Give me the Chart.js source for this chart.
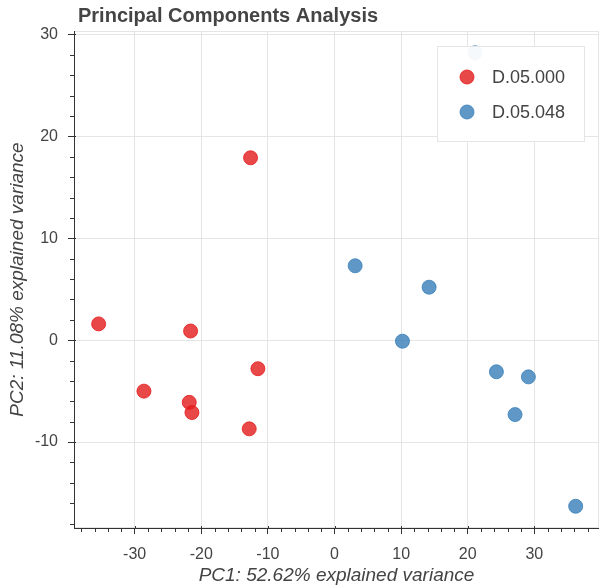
<!DOCTYPE html>
<html>
<head>
<meta charset="utf-8">
<title>Principal Components Analysis</title>
<script src="https://cdn.jsdelivr.net/npm/chart.js@4.4.1/dist/chart.umd.min.js"></script>
<style>
    body { margin: 0; background: #fff; }
    canvas { display: block; }
</style>
</head>
<body>
<canvas id="pca" width="599" height="587"></canvas>
<script>
// Data
const chartTitle = 'Principal Components Analysis';
const xLabel = 'PC1: 52.62% explained variance';
const yLabel = 'PC2: 11.08% explained variance';
const groups = ['D.05.000', 'D.05.048'];
const pc1_000 = [-35.4, -28.6, -21.6, -21.8, -21.4, -12.6, -11.5, -12.8];
const pc2_000 = [1.6, -5.0, 0.9, -6.1, -7.1, 17.9, -2.8, -8.7];
const pc1_048 = [3.1, 14.2, 10.2, 24.3, 29.1, 27.1, 36.2, 21.1];
const pc2_048 = [7.3, 5.2, -0.1, -3.1, -3.6, -7.3, -16.3, 28.2];
const xRange = [-39.1, 39.7];
const yRange = [-18.43, 30.34];

const FONT = "'Liberation Sans', Arial, sans-serif";
const TEXT = '#444';
const AXIS = '#333';
const colors = ['rgba(228, 26, 28, 0.8)', 'rgba(55, 126, 184, 0.8)'];

function toPoints(xs, ys) {
    return xs.map((x, i) => ({ x: x, y: ys[i] }));
}

// light plot outline, drawn under everything else
const outline = {
    id: 'outline',
    beforeDraw(chart) {
        const a = chart.chartArea;
        const ctx = chart.ctx;
        ctx.save();
        ctx.strokeStyle = '#e5e5e5';
        ctx.lineWidth = 1;
        ctx.strokeRect(a.left + 0.5, a.top + 0.5, a.right - a.left - 1, a.bottom - a.top - 1);
        ctx.restore();
    }
};

// Title, minor ticks and the legend box (Bokeh style)
const extras = {
    id: 'extras',
    afterDraw(chart) {
        const ctx = chart.ctx;
        const area = chart.chartArea;
        const xs = chart.scales.x;
        const ys = chart.scales.y;
        ctx.save();

        // minor + inner major ticks
        ctx.strokeStyle = AXIS;
        ctx.lineWidth = 1;
        ctx.beginPath();
        for (let v = Math.ceil(xRange[0] / 2) * 2; v <= xRange[1]; v += 2) {
            const px = Math.round(xs.getPixelForValue(v)) + 0.5;
            if (v % 10 === 0) {
                ctx.moveTo(px, area.bottom);
                ctx.lineTo(px, area.bottom - 2);
            } else {
                ctx.moveTo(px, area.bottom);
                ctx.lineTo(px, area.bottom + 4);
            }
        }
        for (let v = Math.ceil(yRange[0] / 2) * 2; v <= yRange[1]; v += 2) {
            const py = Math.round(ys.getPixelForValue(v)) + 0.5;
            if (v % 10 === 0) {
                ctx.moveTo(area.left, py);
                ctx.lineTo(area.left + 2, py);
            } else {
                ctx.moveTo(area.left, py);
                ctx.lineTo(area.left - 4, py);
            }
        }
        ctx.stroke();

        // title
        ctx.fillStyle = TEXT;
        ctx.font = 'bold 20px ' + FONT;
        ctx.textAlign = 'left';
        ctx.textBaseline = 'middle';
        ctx.fillText(chartTitle, 78, 16);

        // legend
        const bx = 437, by = 46, bw = 147, bh = 95;
        ctx.fillStyle = 'rgba(255, 255, 255, 0.95)';
        ctx.fillRect(bx, by, bw, bh);
        ctx.strokeStyle = '#e5e5e5';
        ctx.strokeRect(bx + 0.5, by + 0.5, bw, bh);
        ctx.font = '18px ' + FONT;
        groups.forEach((g, i) => {
            const cy = by + 31 + i * 35;
            ctx.beginPath();
            ctx.arc(bx + 30, cy, 7, 0, Math.PI * 2);
            ctx.fillStyle = colors[i];
            ctx.fill();
            ctx.strokeStyle = colors[i];
            ctx.stroke();
            ctx.fillStyle = TEXT;
            ctx.fillText(g, bx + 55, cy + 1);
        });
        ctx.restore();
    }
};

const ctx = document.getElementById('pca').getContext('2d');
new Chart(ctx, {
    type: 'scatter',
    data: {
        datasets: [
            {
                label: groups[0],
                data: toPoints(pc1_000, pc2_000),
                backgroundColor: colors[0],
                borderColor: colors[0],
                borderWidth: 1,
                pointRadius: 7,
                pointHoverRadius: 7
            },
            {
                label: groups[1],
                data: toPoints(pc1_048, pc2_048),
                backgroundColor: colors[1],
                borderColor: colors[1],
                borderWidth: 1,
                pointRadius: 7,
                pointHoverRadius: 7
            }
        ]
    },
    options: {
        responsive: false,
        animation: false,
        layout: {
            autoPadding: false,
            padding: { top: 31, right: 0, left: 0, bottom: 0 }
        },
        plugins: {
            legend: { display: false },
            title: { display: false },
            tooltip: { enabled: false }
        },
        scales: {
            x: {
                type: 'linear',
                min: xRange[0],
                max: xRange[1],
                afterFit(scale) {
                    scale.height = 59;
                    scale.paddingLeft = 0;
                    scale.paddingRight = 0;
                },
                ticks: {
                    stepSize: 10,
                    includeBounds: false,
                    color: TEXT,
                    padding: 11,
                    font: { family: FONT, size: 16 }
                },
                grid: { color: '#e5e5e5', tickColor: AXIS, tickLength: 6 },
                border: { color: AXIS, width: 1 },
                title: {
                    display: true,
                    text: xLabel,
                    color: TEXT,
                    padding: 0,
                    font: { family: FONT, size: 19, style: 'italic' }
                }
            },
            y: {
                type: 'linear',
                min: yRange[0],
                max: yRange[1],
                afterFit(scale) {
                    scale.width = 74;
                    scale.paddingTop = 0;
                    scale.paddingBottom = 0;
                },
                ticks: {
                    stepSize: 10,
                    includeBounds: false,
                    color: TEXT,
                    padding: 10,
                    font: { family: FONT, size: 16 }
                },
                grid: { color: '#e5e5e5', tickColor: AXIS, tickLength: 6 },
                border: { color: AXIS, width: 1 },
                title: {
                    display: true,
                    text: yLabel,
                    color: TEXT,
                    padding: { top: 6, bottom: 0 },
                    font: { family: FONT, size: 19, style: 'italic' }
                }
            }
        }
    },
    plugins: [outline, extras]
});
</script>
</body>
</html>
